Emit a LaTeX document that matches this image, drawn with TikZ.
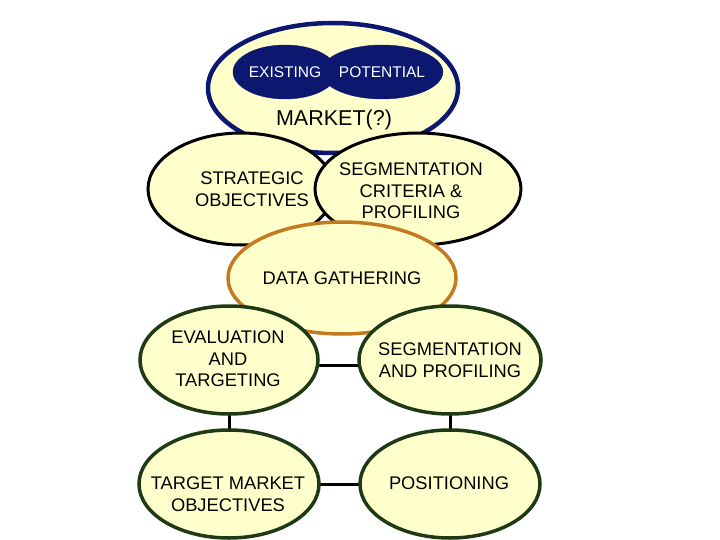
\documentclass[tikz,border=0pt]{standalone}
\usepackage{fontspec}
\setmainfont{Liberation Sans}
\definecolor{cream}{HTML}{FFFFCC}
\definecolor{navy}{HTML}{0C1870}
\definecolor{ochre}{HTML}{C47A22}
\definecolor{dgreen}{HTML}{1E3A14}
\tikzset{
  oval/.style={ellipse, draw=black, fill=cream, line width=3pt, inner sep=0pt},
  navyoval/.style={ellipse, draw=navy, fill=navy, inner sep=0pt, text=white, font=\fontsize{15.5}{17}\selectfont},
  greenoval/.style={oval, draw=dgreen, line width=3.5pt},
  lbl/.style={align=center, font=\fontsize{18.3}{21.5}\selectfont},
  link/.style={line width=3pt, black}
}
\usetikzlibrary{shapes.geometric}
\begin{document}
\begin{tikzpicture}[x=1pt,y=-1pt]
\useasboundingbox (0,0) rectangle (720,540);
% market
\node[oval, draw=navy, line width=4.5pt, minimum width=250pt, minimum height=130pt] (market) at (333,88) {};
\node[navyoval, minimum width=104pt, minimum height=54pt] (existing) at (285,72) {EXISTING};
\node[navyoval, minimum width=100pt, minimum height=54pt] (potential) at (382,72) {POTENTIAL};
\node[font=\fontsize{21.5}{24}\selectfont] (mkt) at (334,120) {MARKET(?)};
% strategic / criteria
\node[oval, minimum width=186pt, minimum height=112pt] (strat) at (241,189) {};
\node[lbl] at (252,189) {STRATEGIC\\OBJECTIVES};
\node[oval, minimum width=206pt, minimum height=112pt] (crit) at (418,189) {};
\node[lbl] at (411,191) {SEGMENTATION\\CRITERIA \&\\PROFILING};
% data gathering
\node[oval, draw=ochre, line width=3.5pt, minimum width=228pt, minimum height=112pt] (data) at (342,278) {};
\node[lbl] at (342,278) {DATA GATHERING};
% links
\draw[link] (229,365) -- (450,365);
\draw[link] (229,484) -- (450,484);
\draw[link] (229,360) -- (229,484);
\draw[link] (450,360) -- (450,484);
% lower ovals
\node[greenoval, minimum width=178pt, minimum height=108pt] (eval) at (229,360) {};
\node[lbl] at (228,359) {EVALUATION\\AND\\TARGETING};
\node[greenoval, minimum width=182pt, minimum height=108pt] (segp) at (450,360) {};
\node[lbl] at (450,360) {SEGMENTATION\\AND PROFILING};
\node[greenoval, minimum width=180pt, minimum height=108pt] (tmo) at (229,484) {};
\node[lbl] at (228,494) {TARGET MARKET\\OBJECTIVES};
\node[greenoval, minimum width=180pt, minimum height=108pt] (pos) at (450,484) {};
\node[lbl] at (449,483) {POSITIONING};
\end{tikzpicture}
\end{document}
